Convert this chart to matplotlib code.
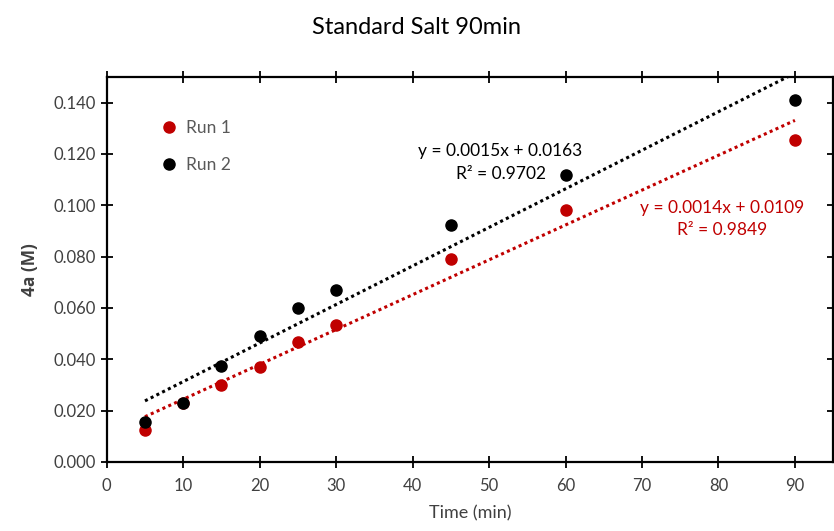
import matplotlib.pyplot as plt
import numpy as np

# data
time_min = [5, 10, 15, 20, 25, 30, 45, 60, 90]
run1 = [0.0125, 0.0230, 0.0300, 0.0369, 0.0467, 0.0533, 0.0792, 0.0980, 0.1255]
run2 = [0.0157, 0.0231, 0.0373, 0.0490, 0.0600, 0.0670, 0.0922, 0.1118, 0.1412]

run_labels = ["Run 1", "Run 2"]
fit_labels = [("y = 0.0014x + 0.0109", "R² = 0.9849"),
              ("y = 0.0015x + 0.0163", "R² = 0.9702")]
fit_label_pos = [(80.5, 0.0947), (51.5, 0.1167)]

RED = "#C00000"
BLACK = "#000000"
colors = [RED, BLACK]

plt.rcParams["font.family"] = ["Lato", "DejaVu Sans"]

fig = plt.figure(figsize=(8.34, 5.31), dpi=100)
ax = fig.add_axes([0.128, 0.130, 0.871, 0.725])

x = np.array(time_min, dtype=float)
for ys, c, lab, (eq, r2), (tx, ty) in zip([run1, run2], colors, run_labels,
                                           fit_labels, fit_label_pos):
    ys = np.array(ys)
    ax.plot(x, ys, "o", color=c, markersize=8, label=lab, zorder=3)
    m, b = np.polyfit(x, ys, 1)
    xf = np.array([x.min(), x.max()])
    ax.plot(xf, m * xf + b, linestyle=(0, (1, 1.1)), color=c, lw=2.2, zorder=2)
    ax.text(tx, ty, eq + "\n" + r2, color=c, fontsize=12.5, ha="center",
            va="center", linespacing=1.5)

ax.set_xlim(0, 95)
ax.set_ylim(0, 0.15)
ax.set_xticks(range(0, 100, 10))
ax.set_yticks(np.arange(0, 0.141, 0.02))
ax.yaxis.set_major_formatter(plt.FuncFormatter(lambda v, p: f"{v:.3f}"))
ax.tick_params(direction="inout", length=9, width=1.3, labelsize=12,
               top=True, right=True, colors="#000000", labelcolor="#404040")
ax.xaxis.set_tick_params(pad=7)
for s in ax.spines.values():
    s.set_linewidth(1.6)

ax.set_xlabel("Time (min)", fontsize=13, color="#404040", labelpad=8)
ax.set_ylabel("4a (M)", fontsize=12.5, fontweight="bold", color="#404040",
              labelpad=10, family=["Open Sans", "DejaVu Sans"])
fig.suptitle("Standard Salt 90min", fontsize=17, y=0.968)

leg = ax.legend(loc="upper left", bbox_to_anchor=(0.045, 0.92), frameon=False,
                fontsize=12.5, handletextpad=0.0, labelspacing=1.2,
                borderpad=0.2)
for t in leg.get_texts():
    t.set_color("#595959")

fig.savefig("out.png", dpi=100)
